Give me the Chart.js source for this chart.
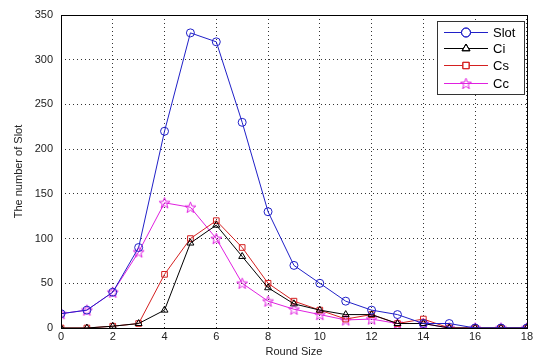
<!DOCTYPE html>
<html>
<head>
<meta charset="utf-8">
<script src="https://cdn.jsdelivr.net/npm/chart.js@4/dist/chart.umd.min.js"></script>
<style>
  html, body { margin: 0; padding: 0; background: #fff; }
  #wrap { width: 535px; height: 363px; position: relative; }
</style>
</head>
<body>
<div id="wrap"><canvas id="chart"></canvas></div>
<script>
// round sizes 0..18
const roundSizes = [0, 1, 2, 3, 4, 5, 6, 7, 8, 9, 10, 11, 12, 13, 14, 15, 16, 17, 18];
const slotValues = [16, 20, 40, 90, 220, 330, 320, 230, 130, 70, 50, 30, 20, 15, 5, 5, 0, 0, 0];
const ciValues   = [0, 0, 2, 5, 20, 95, 115, 80, 45, 27, 20, 15, 15, 5, 5, 0, 0, 0, 0];
const csValues   = [0, 0, 2, 5, 60, 100, 120, 90, 50, 30, 20, 10, 15, 5, 10, 0, 0, 0, 0];
const ccValues   = [16, 20, 40, 85, 140, 135, 100, 50, 30, 21, 15, 9, 10, 5, 5, 0, 0, 0, 0];

const seriesNames = ['Slot', 'Ci', 'Cs', 'Cc'];
const seriesColors = ['#2020c8', '#000000', '#d42020', '#e020e0'];

// matlab-like pentagram marker
function makeStar(color) {
    const c = document.createElement('canvas');
    c.width = 13; c.height = 13;
    const g = c.getContext('2d');
    g.strokeStyle = color;
    g.lineWidth = 1;
    g.beginPath();
    for (let k = 0; k < 10; k++) {
        const r = k % 2 === 0 ? 5.8 : 2.4;
        const ang = -Math.PI / 2 + k * Math.PI / 5;
        const px = 6.5 + r * Math.cos(ang), py = 7 + r * Math.sin(ang);
        if (k === 0) g.moveTo(px, py); else g.lineTo(px, py);
    }
    g.closePath();
    g.stroke();
    return c;
}
const starImg = makeStar('#e020e0');
const seriesMarkers = ['circle', 'triangle', 'rect', starImg];

function toPoints(values) {
    return roundSizes.map((x, i) => ({x: x, y: values[i]}));
}

const allValues = [slotValues, ciValues, csValues, ccValues];
const datasets = allValues.map((vals, i) => ({
    label: seriesNames[i],
    data: toPoints(vals),
    borderColor: seriesColors[i],
    backgroundColor: 'rgba(0,0,0,0)',
    borderWidth: 1,
    pointStyle: seriesMarkers[i],
    pointRadius: 4,
    pointBorderColor: seriesColors[i],
    pointBorderWidth: 1,
    tension: 0
}));

// box around the axes + legend inside the plot
const matlabBox = {
    id: 'matlabBox',
    afterDraw(chart) {
        const ctx = chart.ctx;
        const a = chart.chartArea;
        ctx.save();
        ctx.strokeStyle = '#000';
        ctx.lineWidth = 1;
        ctx.strokeRect(Math.round(a.left) + 0.5, Math.round(a.top) + 0.5,
            Math.round(a.right - a.left), Math.round(a.bottom - a.top));

        // legend
        const lx = 437, ly = 21, lw = 87, lh = 73;
        ctx.fillStyle = '#fff';
        ctx.fillRect(lx, ly, lw, lh);
        ctx.strokeStyle = '#333';
        ctx.strokeRect(lx + 0.5, ly + 0.5, lw, lh);
        ctx.font = '13px "Liberation Sans", Arial, sans-serif';
        ctx.textBaseline = 'middle';
        const rows = [32, 48, 65, 83];
        seriesNames.forEach((name, i) => {
            const y = rows[i] + 0.5;
            ctx.strokeStyle = seriesColors[i];
            ctx.beginPath();
            ctx.moveTo(444, y);
            ctx.lineTo(488, y);
            ctx.stroke();
            ctx.fillStyle = '#fff';
            Chart.helpers.drawPoint(ctx, {pointStyle: seriesMarkers[i], radius: 4.5, borderWidth: 1}, 466, y);
            if (typeof seriesMarkers[i] === 'string') ctx.stroke();
            ctx.fillStyle = '#000';
            ctx.fillText(name, 493, y + 1);
        });
        ctx.restore();
    }
};

const tickFont = {family: '"Liberation Sans", Arial, sans-serif', size: 11};

new Chart(document.getElementById('chart'), {
    type: 'line',
    data: {datasets: datasets},
    options: {
        responsive: true,
        maintainAspectRatio: false,
        animation: false,
        layout: {padding: {top: 15, right: 7, left: 0, bottom: 0}},
        plugins: {
            legend: {display: false},
            tooltip: {enabled: false}
        },
        scales: {
            x: {
                type: 'linear',
                min: 0,
                max: 18,
                ticks: {stepSize: 2, color: '#222', font: tickFont, padding: 2},
                grid: {color: '#333', drawTicks: false},
                border: {display: false, dash: [1, 3]},
                title: {display: true, text: 'Round Size', color: '#222', font: tickFont, padding: {top: 5}},
                afterFit(scale) { scale.height = 35; }
            },
            y: {
                min: 0,
                max: 350,
                ticks: {stepSize: 50, color: '#222', font: tickFont, padding: 8},
                grid: {color: '#333', drawTicks: false},
                border: {display: false, dash: [1, 3]},
                title: {display: true, text: 'The number of Slot', color: '#222', font: tickFont, padding: {top: 12, bottom: 4}},
                afterFit(scale) { scale.width = 61; }
            }
        }
    },
    plugins: [matlabBox]
});
</script>
</body>
</html>
